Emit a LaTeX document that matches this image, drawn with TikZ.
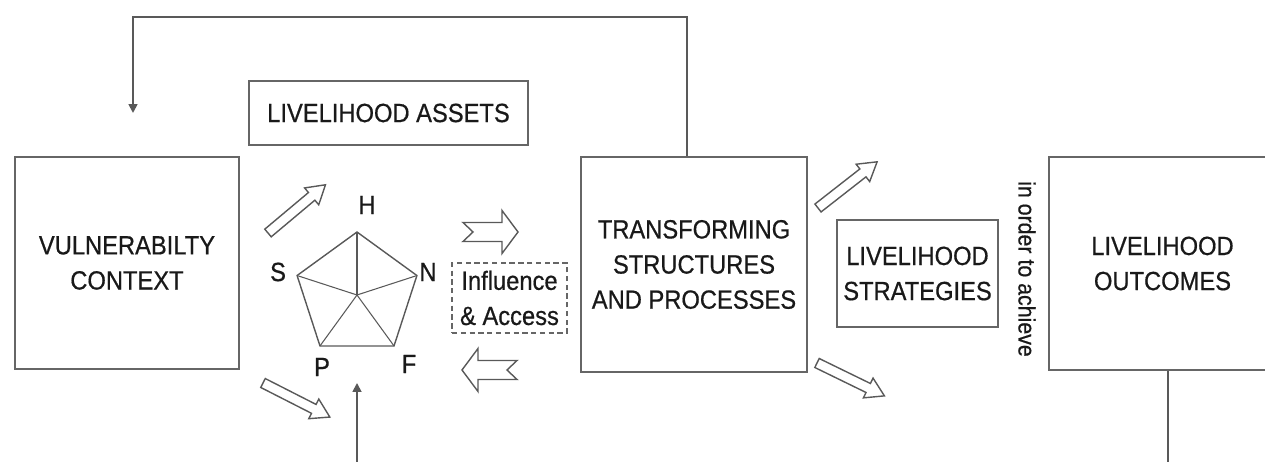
\documentclass[tikz,border=0pt]{standalone}
\usepackage{fontspec}
\setmainfont[FakeStretch=0.9,FakeBold=0.6]{Liberation Sans}
\usetikzlibrary{shapes.geometric,arrows.meta}
\newcommand\blockarrow[2]{%
\draw[hollow, shift={(#1)}, rotate=#2] (0,-5) -- (57,-5) -- (57,-11) -- (75,0) -- (57,11) -- (57,5) -- (0,5) -- cycle;
}
\newcommand\notcharrow[2]{%
\draw[hollow, shift={(#1)}, rotate=#2] (0,-9.5) -- (39,-9.5) -- (39,-21.5) -- (55,0) -- (39,21.5) -- (39,9.5) -- (0,9.5) -- (10,0) -- cycle;
}

\begin{document}
\begin{tikzpicture}[x=0.02cm,y=-0.02cm,
    every node/.style={text=black!90, font=\fontsize{15}{20}\selectfont},
    box/.style={draw=black!60, line width=1.1pt, align=center, inner sep=0},
    hollow/.style={draw=black!65, line width=0.8pt, line join=miter},
    link/.style={draw=black!65, line width=1pt},
    lbl/.style={inner sep=0}]
	%% page
	\useasboundingbox (0,0) rectangle (1265,462);
	\clip (0,0) rectangle (1265,462);

	\def\pentR{2.52cm} % pentagon circumcircle diameter

	% boxes
	\node[box, minimum width=4.48cm, minimum height=4.24cm] (vuln) at (127,263) {VULNERABILTY\\CONTEXT};
	\node[box, minimum width=5.58cm, minimum height=1.28cm] (assets) at (388.5,113) {LIVELIHOOD ASSETS};
	\node[box, minimum width=4.52cm, minimum height=4.3cm] (trans) at (694,264.5) {TRANSFORMING\\STRUCTURES\\AND PROCESSES};
	\node[box, minimum width=3.22cm, minimum height=2.14cm] (strat) at (917.5,273.5) {LIVELIHOOD\\STRATEGIES};
	\node[box, minimum width=4.54cm, minimum height=4.26cm] (outc) at (1162.5,263.5) {LIVELIHOOD\\OUTCOMES};
	\node[box, dash pattern=on 3pt off 2pt, line width=0.8pt, minimum width=2.3cm, minimum height=1.4cm] (infl) at (509.5,298) {Influence\\\& Access};
	\node[rotate=-90, font=\fontsize{13.5}{16}\selectfont] (achieve) at (1027,269) {in order to achieve};

	% asset pentagon
	\node[draw=black!65, line width=0.8pt, regular polygon, regular polygon sides=5, minimum size=\pentR, inner sep=0, outer sep=0] (pent) at (357,295) {};
	\foreach \c in {1,...,5}
		\draw[draw=black!65, line width=0.6pt] (pent.center) -- (pent.corner \c);
	\node[lbl] (lh) at (367,205) {H};
	\node[lbl] (ls) at (278,272) {S};
	\node[lbl] (ln) at (428,272) {N};
	\node[lbl] (lp) at (322,367) {P};
	\node[lbl] (lf) at (409,364) {F};

	% hollow arrows
	\blockarrow{268,233}{40}
	\blockarrow{263,383}{-27}
	\blockarrow{818,208}{38}
	\blockarrow{817,363}{-26}
	\notcharrow{463,232}{0}
	\notcharrow{517,370}{180}

	% feedback and links
	\coordinate (fbtop) at (687,17);
	\coordinate (fbleft) at (133,17);
	\coordinate (fbend) at (133,113);
	\coordinate (asbot) at (357,462);
	\coordinate (astip) at (357,383);
	\coordinate (outbot) at (1168,462);
	\draw[link, -{Triangle[length=5pt,width=5pt]}] (trans.north -| fbtop) |- (fbleft) -- (fbend);
	\draw[link, -{Triangle[length=5pt,width=5pt]}] (asbot) -- (astip);
	\draw[link] (outc.south -| outbot) -- (outbot);
\end{tikzpicture}
\end{document}
